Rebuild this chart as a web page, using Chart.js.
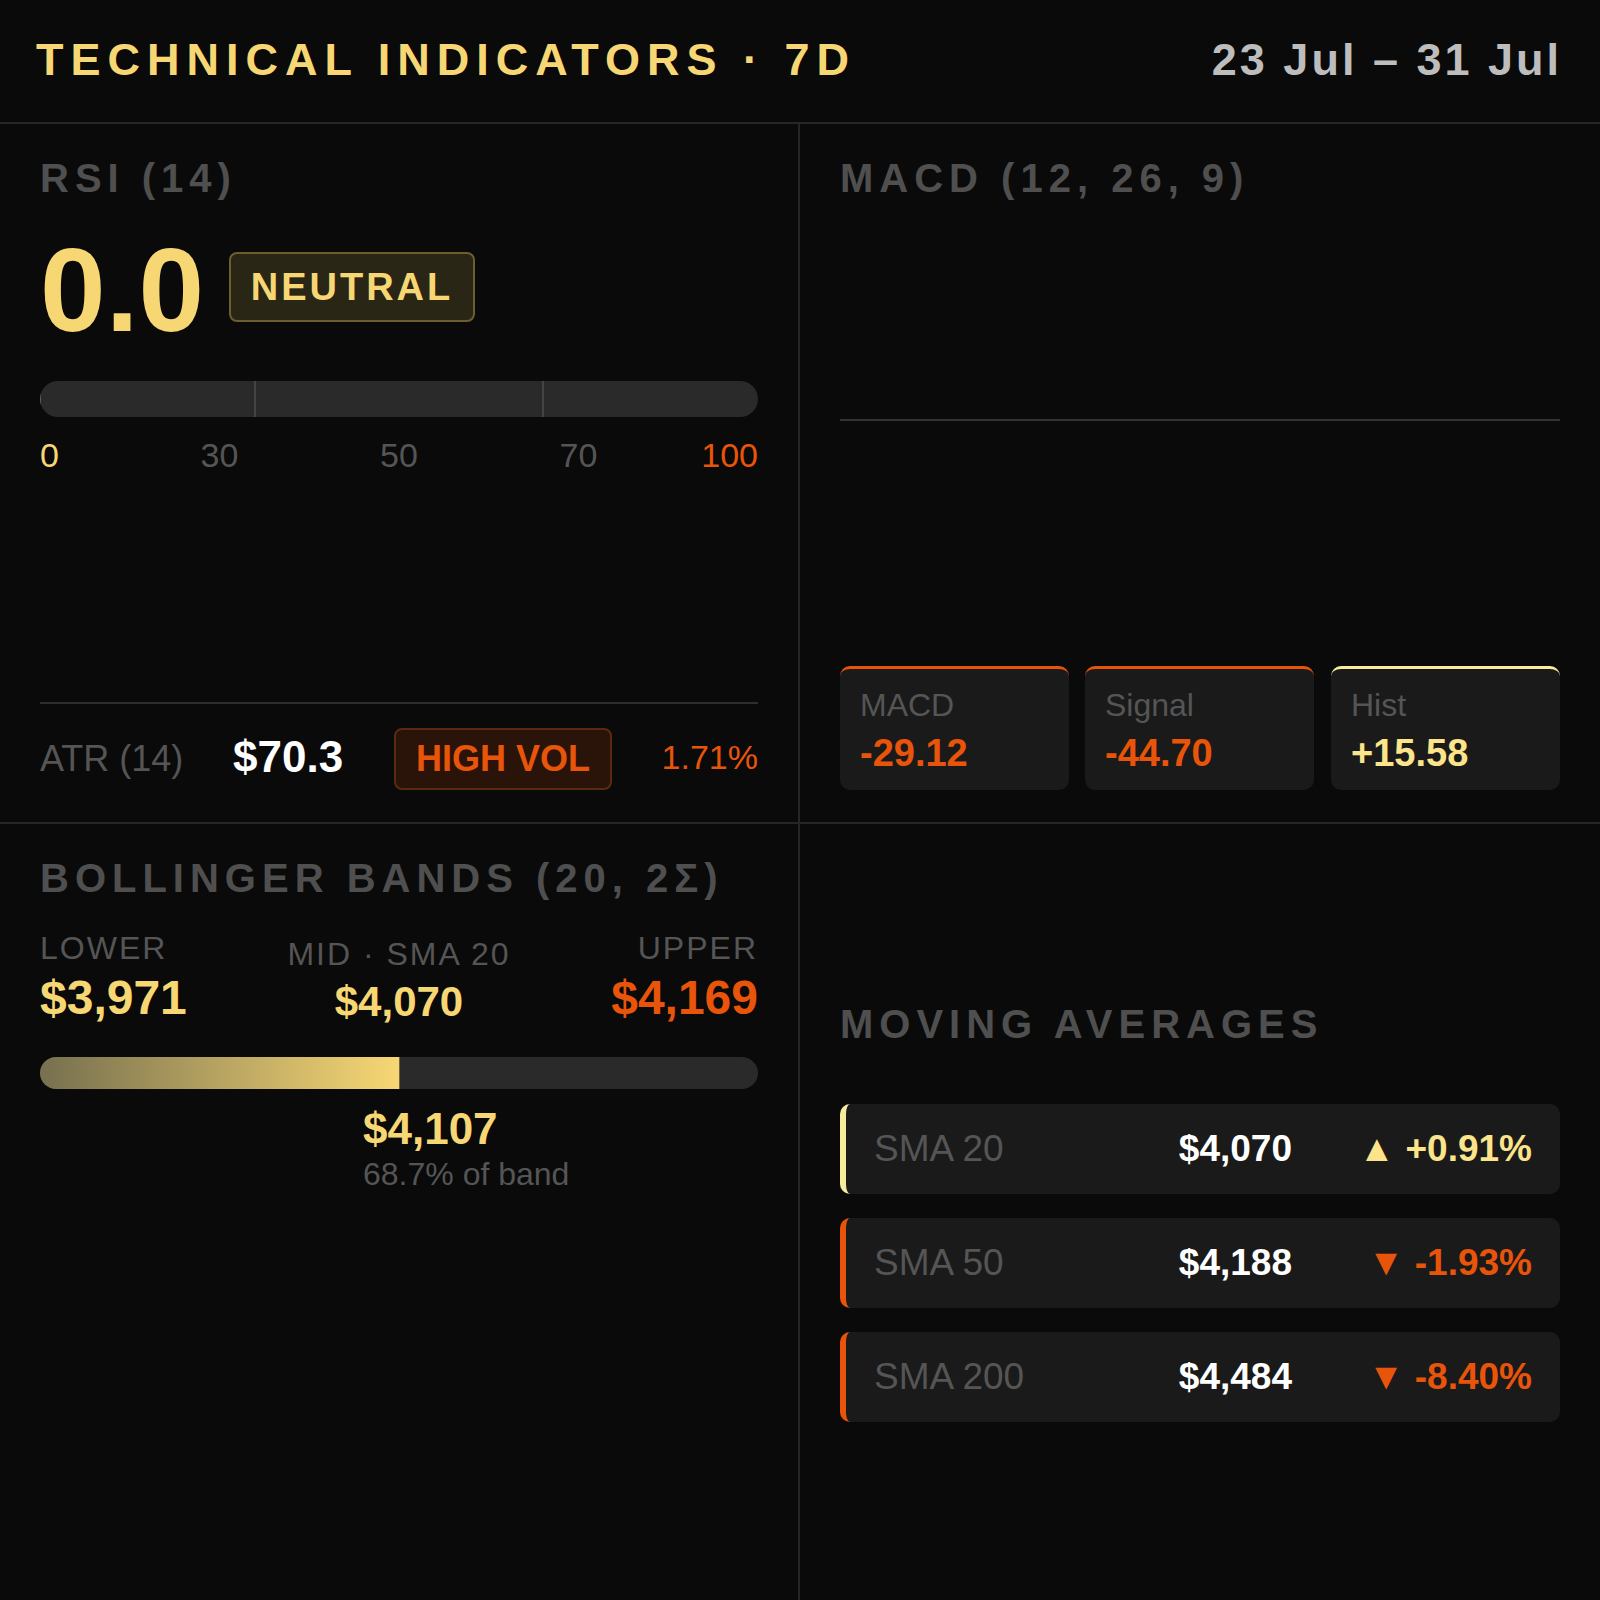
<!DOCTYPE html>
<html>
<head>
<meta charset="utf-8">
<script src="https://cdn.jsdelivr.net/npm/chart.js@4/dist/chart.umd.min.js"></script>
<style>
  body { margin: 0; width: 1600px; height: 1600px; background: #0a0a0a; font-family: "Liberation Sans", Arial, sans-serif; overflow: hidden; position: relative; color: #fff; }
  .abs { position: absolute; }
  .hline { position: absolute; height: 2px; background: #262626; left: 0; width: 1600px; }
  .vline { position: absolute; width: 2px; background: #262626; left: 798px; top: 123px; height: 1477px; }
  .title { font-weight: bold; letter-spacing: 6px; color: #4f4f4f; font-size: 40px; }
  .card { position: absolute; top: 666px; width: 229px; height: 124px; background: #1a1a1a; border-radius: 10px; border-top: 3px solid #e8550a; box-sizing: border-box; padding: 18px 20px; }
  .card .l { font-size: 32px; color: #555; }
  .card .v { font-size: 38px; font-weight: bold; color: #e8550a; margin-top: 8px; }
  .ma { position: absolute; left: 840px; width: 720px; height: 90px; background: #1a1a1a; border-radius: 10px; border-left: 6px solid #e8550a; box-sizing: border-box; }
  .ma span { position: absolute; top: 24px; font-size: 37px; }
</style>
</head>
<body>
<div class="abs" style="left:36px;top:34px;font-size:45px;font-weight:bold;letter-spacing:7px;color:#f7d774">TECHNICAL INDICATORS · 7D</div>
<div class="abs" style="right:38px;top:34px;font-size:45px;font-weight:bold;letter-spacing:3px;color:#bdbdbd">23 Jul – 31 Jul</div>
<div class="hline" style="top:122px"></div>
<div class="hline" style="top:822px"></div>
<div class="vline"></div>

<!-- RSI -->
<div class="abs title" style="left:40px;top:156px">RSI (14)</div>
<div class="abs" style="left:40px;top:222px;font-size:118px;font-weight:bold;color:#f7d774">0.0</div>
<div class="abs" style="left:229px;top:252px;width:246px;height:70px;border:2px solid #6b5f2e;background:#2a2616;border-radius:8px;box-sizing:border-box;color:#f7d774;font-size:38px;font-weight:bold;letter-spacing:3px;text-align:center;line-height:66px">NEUTRAL</div>
<div class="abs" style="left:40px;top:381px;width:718px;height:36px;background:#2a2a2a;border-radius:18px;overflow:hidden">
  <canvas id="rsiChart"></canvas>
</div>
<div id="rsiLabels" class="abs" style="left:40px;top:436px;width:718px;height:40px;font-size:34px;color:#555"></div>
<div class="abs" style="left:40px;top:702px;width:718px;height:2px;background:#2e2e2e"></div>
<div class="abs" style="left:40px;top:738px;font-size:36px;color:#555">ATR (14)</div>
<div class="abs" style="left:233px;top:732px;font-size:44px;font-weight:bold">$70.3</div>
<div class="abs" style="left:394px;top:728px;width:218px;height:62px;border:2px solid #5a2a10;background:#2a1308;border-radius:8px;box-sizing:border-box;color:#e8550a;font-size:36px;font-weight:bold;text-align:center;line-height:58px">HIGH VOL</div>
<div class="abs" style="right:842px;top:738px;font-size:34px;color:#e8550a">1.71%</div>

<!-- MACD -->
<div class="abs title" style="left:840px;top:156px">MACD (12, 26, 9)</div>
<div class="abs" style="left:840px;top:220px;width:720px;height:400px"><canvas id="macdChart"></canvas></div>
<div class="card" style="left:840px"><div class="l">MACD</div><div class="v" id="c0"></div></div>
<div class="card" style="left:1085px"><div class="l">Signal</div><div class="v" id="c1"></div></div>
<div class="card" style="left:1331px;border-top-color:#f7ec9c"><div class="l">Hist</div><div class="v" id="c2" style="color:#fbe48a"></div></div>

<!-- Bollinger -->
<div class="abs title" style="left:40px;top:856px">BOLLINGER BANDS (20, 2Σ)</div>
<div class="abs" style="left:40px;top:930px;font-size:32px;letter-spacing:2px;color:#555">LOWER</div>
<div class="abs" style="left:40px;top:970px;font-size:48px;font-weight:bold;color:#f7d774">$3,971</div>
<div class="abs" style="left:220px;width:358px;text-align:center;top:936px;font-size:32px;letter-spacing:2px;color:#555">MID · SMA 20</div>
<div class="abs" style="left:220px;width:358px;text-align:center;top:978px;font-size:42px;font-weight:bold;color:#f7d774">$4,070</div>
<div class="abs" style="right:842px;top:930px;font-size:32px;letter-spacing:2px;color:#555">UPPER</div>
<div class="abs" style="right:842px;top:970px;font-size:48px;font-weight:bold;color:#e8550a">$4,169</div>
<div class="abs" style="left:40px;top:1057px;width:718px;height:32px;background:#2a2a2a;border-radius:16px;overflow:hidden">
  <canvas id="bbChart"></canvas>
</div>
<div class="abs" style="left:363px;top:1104px;font-size:44px;font-weight:bold;color:#f7d774">$4,107</div>
<div class="abs" style="left:363px;top:1156px;font-size:32px;color:#555">68.7% of band</div>

<!-- Moving averages -->
<div class="abs title" style="left:840px;top:1002px">MOVING AVERAGES</div>
<div id="maRows"></div>

<script>
const rsiValue = 0;
const rsiTicks = [0, 30, 50, 70, 100];
const rsiZones = [30, 70];
const macdLabels = [];
const macdLine = [];
const signalLine = [];
const histValues = [];
const macdCards = ["-29.12", "-44.70", "+15.58"];
const bbFill = 50;
const maNames = ["SMA 20", "SMA 50", "SMA 200"];
const maValues = ["$4,070", "$4,188", "$4,484"];
const maChanges = ["▲ +0.91%", "▼ -1.93%", "▼ -8.40%"];
const maUp = [true, false, false];

Chart.defaults.animation = false;

// RSI labels
const lab = document.getElementById("rsiLabels");
rsiTicks.forEach((t, i) => {
  const s = document.createElement("span");
  s.textContent = t;
  s.style.position = "absolute";
  s.style.left = (i / (rsiTicks.length - 1)) * 100 + "%";
  s.style.transform = i === 0 ? "none" : i === rsiTicks.length - 1 ? "translateX(-100%)" : "translateX(-50%)";
  if (i === 0) s.style.color = "#f7d774";
  if (i === rsiTicks.length - 1) s.style.color = "#e8550a";
  lab.appendChild(s);
});

const barOpts = (ticks) => ({
  indexAxis: "y",
  responsive: true,
  maintainAspectRatio: false,
  layout: { padding: 0 },
  plugins: { legend: { display: false }, tooltip: { enabled: false } },
  scales: {
    x: {
      min: 0, max: 100, display: true,
      border: { display: false },
      ticks: { display: false },
      grid: { color: ticks ? "#444" : "transparent", lineWidth: 2, drawTicks: false },
      afterBuildTicks: (ax) => { ax.ticks = (ticks || []).map(v => ({ value: v })); }
    },
    y: { display: false }
  }
});

new Chart(document.getElementById("rsiChart"), {
  type: "bar",
  data: { labels: ["RSI"], datasets: [{ data: [rsiValue], backgroundColor: "#f7d774", barPercentage: 1, categoryPercentage: 1 }] },
  options: barOpts(rsiZones)
});

new Chart(document.getElementById("bbChart"), {
  type: "bar",
  data: {
    labels: ["BB"],
    datasets: [{
      data: [bbFill],
      barPercentage: 1, categoryPercentage: 1,
      backgroundColor: (ctx) => {
        const a = ctx.chart.chartArea;
        if (!a) return "#f7d774";
        const g = ctx.chart.ctx.createLinearGradient(a.left, 0, a.left + a.width * bbFill / 100, 0);
        g.addColorStop(0, "#77704f");
        g.addColorStop(1, "#f7d774");
        return g;
      }
    }]
  },
  options: barOpts(null)
});

new Chart(document.getElementById("macdChart"), {
  type: "bar",
  data: {
    labels: macdLabels,
    datasets: [
      { type: "line", data: macdLine, borderColor: "#e8550a", pointRadius: 0 },
      { type: "line", data: signalLine, borderColor: "#f7d774", pointRadius: 0 },
      { data: histValues, backgroundColor: "#fbe48a" }
    ]
  },
  options: {
    responsive: true, maintainAspectRatio: false,
    plugins: { legend: { display: false }, tooltip: { enabled: false } },
    scales: {
      x: { display: false },
      y: {
        min: -1, max: 1,
        border: { display: false },
        ticks: { display: false },
        grid: { color: "#333", lineWidth: 2, drawTicks: false },
        afterBuildTicks: (ax) => { ax.ticks = [{ value: 0 }]; }
      }
    }
  }
});

macdCards.forEach((v, i) => { document.getElementById("c" + i).textContent = v; });

const rows = document.getElementById("maRows");
maNames.forEach((n, i) => {
  const d = document.createElement("div");
  d.className = "ma";
  d.style.top = (1104 + i * 114) + "px";
  d.style.borderLeftColor = maUp[i] ? "#f7ec9c" : "#e8550a";
  d.innerHTML = `<span style="left:28px;color:#555">${n}</span>
    <span style="right:268px;font-weight:bold">${maValues[i]}</span>
    <span style="right:28px;font-weight:bold;color:${maUp[i] ? "#fbe48a" : "#e8550a"}">${maChanges[i]}</span>`;
  rows.appendChild(d);
});
</script>
</body>
</html>
